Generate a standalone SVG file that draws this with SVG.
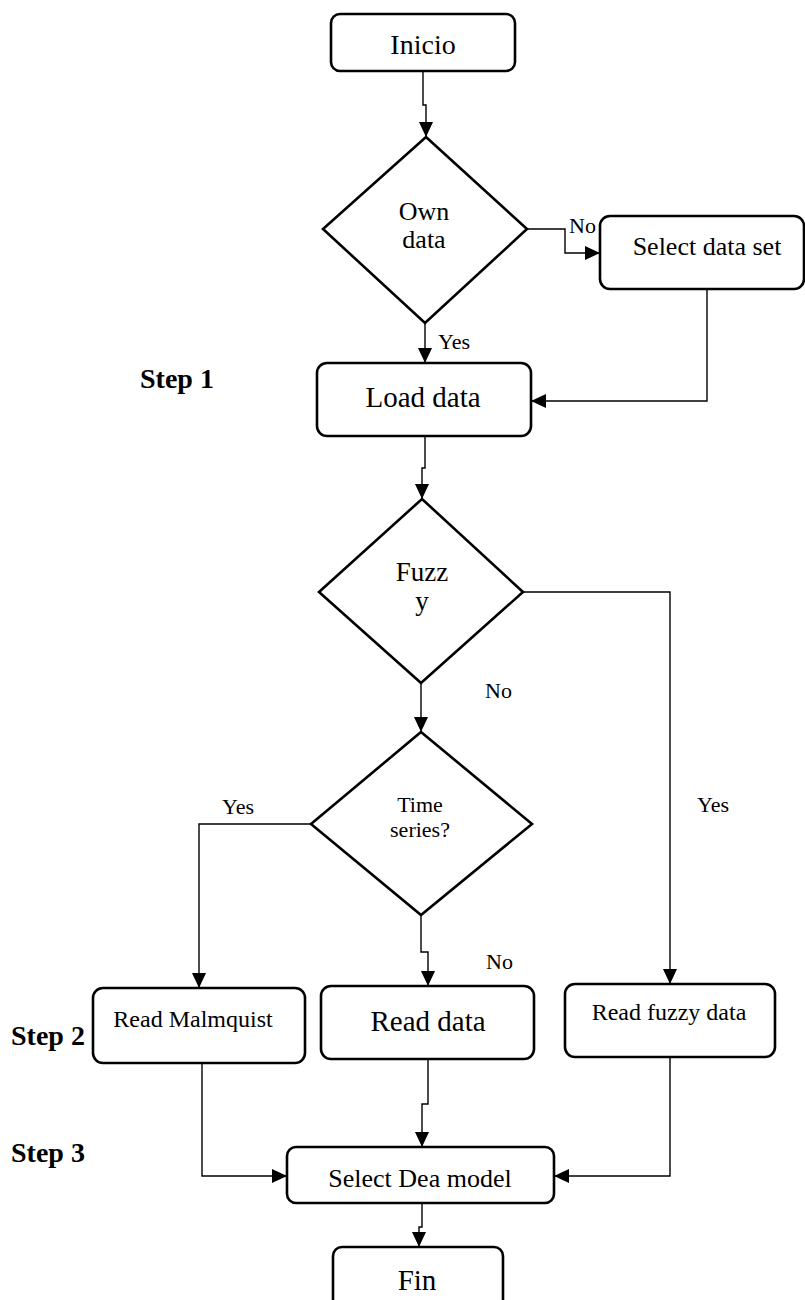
<svg xmlns="http://www.w3.org/2000/svg" width="805" height="1300" viewBox="0 0 805 1300">
  <style>
    .box { fill: #fff; stroke: #000; stroke-width: 2.6; }
    .dia { fill: #fff; stroke: #000; stroke-width: 2.6; stroke-linejoin: miter; }
    .wire { fill: none; stroke: #000; stroke-width: 1.4; }
    .t { font-family: "Liberation Serif", "Times New Roman", serif; fill: #000; text-anchor: middle; }
    .lbl { font-family: "Liberation Serif", "Times New Roman", serif; fill: #000; font-size: 22px; }
    .step { font-family: "Liberation Serif", "Times New Roman", serif; fill: #000; font-size: 28px; font-weight: bold; }
  </style>
  <defs>
    <marker id="arrow" markerUnits="userSpaceOnUse" markerWidth="15" markerHeight="14" refX="15" refY="7" orient="auto">
      <path d="M0,0 L15,7 L0,14 Z" fill="#000"/>
    </marker>
  </defs>
  <rect width="805" height="1300" fill="#fff"/>

  <!-- connectors -->
  <g id="connectors" class="wire" marker-end="url(#arrow)">
    <path d="M423,71 V105 H426 V137"/>
    <path d="M527,229 H565 V253 H600"/>
    <path d="M425,323 V363"/>
    <path d="M707,289 V401 H531"/>
    <path d="M425,436 V468 H422 V499"/>
    <path d="M523,592 H670 V984"/>
    <path d="M421,683 V732"/>
    <path d="M311,824 H199 V988"/>
    <path d="M421,915 V952 H428 V986"/>
    <path d="M202,1063 V1176 H287"/>
    <path d="M428,1059 V1104 H422 V1147"/>
    <path d="M670,1057 V1176 H554"/>
    <path d="M422,1203 V1227 H419 V1247"/>
  </g>

  <!-- edge labels -->
  <g id="labels">
    <text class="lbl" x="569" y="233">No</text>
    <text class="lbl" x="438" y="349">Yes</text>
    <text class="lbl" x="485" y="698">No</text>
    <text class="lbl" x="222" y="814">Yes</text>
    <text class="lbl" x="697" y="812">Yes</text>
    <text class="lbl" x="486" y="969">No</text>
  </g>

  <!-- step captions -->
  <g id="steps">
    <text class="step" x="140" y="388">Step 1</text>
    <text class="step" x="11" y="1045">Step 2</text>
    <text class="step" x="11" y="1162">Step 3</text>
  </g>

  <g id="inicio">
    <rect class="box" x="331" y="14" width="184" height="57" rx="9"/>
    <text class="t" x="423" y="54" font-size="28">Inicio</text>
  </g>

  <g id="own-data">
    <polygon class="dia" points="426,137 527,229 425,323 323,229"/>
    <text class="t" x="424" y="220" font-size="26">Own</text>
    <text class="t" x="424" y="248" font-size="26">data</text>
  </g>

  <g id="select-data-set">
    <rect class="box" x="600" y="216" width="204" height="73" rx="10"/>
    <text class="t" x="707" y="255" font-size="26">Select data set</text>
  </g>

  <g id="load-data">
    <rect class="box" x="317" y="363" width="214" height="73" rx="10"/>
    <text class="t" x="423" y="407" font-size="29">Load data</text>
  </g>

  <g id="fuzzy">
    <polygon class="dia" points="422,499 523,592 421,683 319,592"/>
    <text class="t" x="422" y="581" font-size="27">Fuzz</text>
    <text class="t" x="422" y="610" font-size="27">y</text>
  </g>

  <g id="time-series">
    <polygon class="dia" points="421,732 532,824 421,915 311,824"/>
    <text class="t" x="420" y="812" font-size="22">Time</text>
    <text class="t" x="420" y="837" font-size="22">series?</text>
  </g>

  <g id="read-malmquist">
    <rect class="box" x="93" y="988" width="212" height="75" rx="10"/>
    <text class="t" x="193" y="1027" font-size="24">Read Malmquist</text>
  </g>

  <g id="read-data">
    <rect class="box" x="321" y="986" width="213" height="73" rx="10"/>
    <text class="t" x="428" y="1031" font-size="29">Read data</text>
  </g>

  <g id="read-fuzzy-data">
    <rect class="box" x="565" y="984" width="210" height="73" rx="10"/>
    <text class="t" x="669" y="1020" font-size="24">Read fuzzy data</text>
  </g>

  <g id="select-dea-model">
    <rect class="box" x="287" y="1147" width="267" height="56" rx="9"/>
    <text class="t" x="420" y="1187" font-size="26">Select Dea model</text>
  </g>

  <g id="fin">
    <rect class="box" x="333" y="1247" width="170" height="70" rx="9"/>
    <text class="t" x="417" y="1290" font-size="29">Fin</text>
  </g>
</svg>
